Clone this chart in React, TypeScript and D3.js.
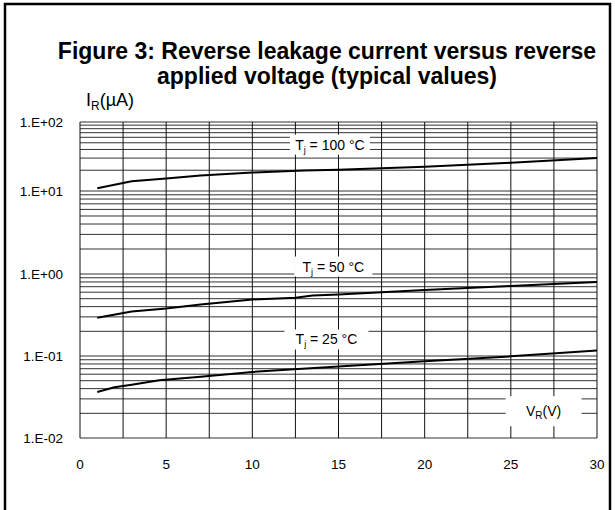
import React from "react";
import * as d3 from "d3";

// Données (V, µA)
const voltages100 = [1, 3, 5, 7, 10, 13, 15, 20, 25, 30];
const current100 = [11.0, 13.8, 15.2, 16.8, 18.5, 19.8, 20.4, 22.5, 25.6, 30.1];

const voltages50 = [1, 3, 5, 7, 10, 12.5, 13.5, 15, 20, 25, 30];
const current50 = [0.292, 0.349, 0.379, 0.425, 0.489, 0.512, 0.546, 0.561, 0.637, 0.713, 0.797];

const voltages25 = [1, 2, 3, 4.6, 7, 10, 15, 20, 25, 30];
const current25 = [0.0364, 0.0415, 0.0445, 0.0505, 0.056, 0.064, 0.0745, 0.086, 0.099, 0.117];

const xTicks = [0, 5, 10, 15, 20, 25, 30];
const yTicks = [1e-2, 1e-1, 1, 10, 100];
const yTickLabels = ["1.E-02", "1.E-01", "1.E+00", "1.E+01", "1.E+02"];

const curveLabels = [
  { temp: "100 °C", v: 14.5, i: 47, w: 80, h: 20 },
  { temp: "50 °C", v: 14.7, i: 1.23, w: 78, h: 20 },
  { temp: "25 °C", v: 14.3, i: 0.159, w: 84, h: 20 },
];

const W = 615;
const H = 510;
// positions des décades (la décade du haut est plus courte sur l'original)
const decadeY = [438, 356, 274, 191, 122];

export default function App() {
  const x = d3.scaleLinear().domain([0, 30]).range([80, 597]);
  const yl = d3.scaleLinear().domain([-2, -1, 0, 1, 2]).range(decadeY);
  const y = (v: number) => yl(Math.log10(v));

  const vGrid = d3.range(0, 30.01, 2.5);
  const hGrid: number[] = [];
  for (let d = -2; d < 2; d++) for (let k = 1; k < 10; k++) hGrid.push(k * Math.pow(10, d));
  hGrid.push(100);

  const line = d3
    .line<[number, number]>()
    .x((d) => x(d[0]))
    .y((d) => y(d[1]));

  const series = [
    d3.zip(voltages100, current100) as [number, number][],
    d3.zip(voltages50, current50) as [number, number][],
    d3.zip(voltages25, current25) as [number, number][],
  ];

  const font = "Liberation Sans, Arial, sans-serif";

  return (
    <svg width={W} height={H} style={{ position: "absolute", left: 0, top: 0 }} fontFamily={font}>
      <rect x={0} y={0} width={W} height={H} fill="#fff" />
      <rect x={5} y={4} width={605} height={530} fill="none" stroke="#000" strokeWidth={2.5} />

      <text x={327} y={59} textAnchor="middle" fontSize={23} fontWeight="bold">
        Figure 3: Reverse leakage current versus reverse
      </text>
      <text x={327} y={84} textAnchor="middle" fontSize={23} fontWeight="bold">
        applied voltage (typical values)
      </text>

      <text x={86} y={106} fontSize={18}>
        I<tspan fontSize={12} dy={4}>R</tspan>
        <tspan dy={-4}>(µA)</tspan>
      </text>

      {/* grille */}
      {hGrid.map((v, i) => (
        <line key={"h" + i} x1={x(0)} x2={x(30)} y1={y(v)} y2={y(v)} stroke="#333" strokeWidth={1} />
      ))}
      {vGrid.map((v, i) => (
        <line key={"v" + i} x1={x(v)} x2={x(v)} y1={y(1e-2)} y2={y(1e2)} stroke="#111" strokeWidth={1} />
      ))}

      {/* étiquettes des courbes */}
      {curveLabels.map((c, i) => (
        <g key={"l" + i} transform={`translate(${x(c.v)},${y(c.i)})`}>
          <rect x={-c.w / 2} y={-c.h / 2} width={c.w} height={c.h} fill="#fff" />
          <text x={0} y={5} textAnchor="middle" fontSize={14}>
            T<tspan fontSize={9} dy={3}>j</tspan>
            <tspan dy={-3}>{" = " + c.temp}</tspan>
          </text>
        </g>
      ))}
      <g transform={`translate(${x(26.9)},${y(0.0212)})`}>
        <rect x={-38} y={-15} width={76} height={30} fill="#fff" />
        <text x={0} y={5} textAnchor="middle" fontSize={14}>
          V<tspan fontSize={10} dy={3}>R</tspan>
          <tspan dy={-3}>(V)</tspan>
        </text>
      </g>

      {series.map((s, i) => (
        <path key={"s" + i} d={line(s) ?? ""} fill="none" stroke="#000" strokeWidth={2} />
      ))}

      {yTicks.map((t, i) => (
        <text key={"yt" + i} x={63} y={y(t) + 5} textAnchor="end" fontSize={13.5}>
          {yTickLabels[i]}
        </text>
      ))}
      {xTicks.map((t, i) => (
        <text key={"xt" + i} x={x(t)} y={469} textAnchor="middle" fontSize={13.5}>
          {t}
        </text>
      ))}
    </svg>
  );
}
